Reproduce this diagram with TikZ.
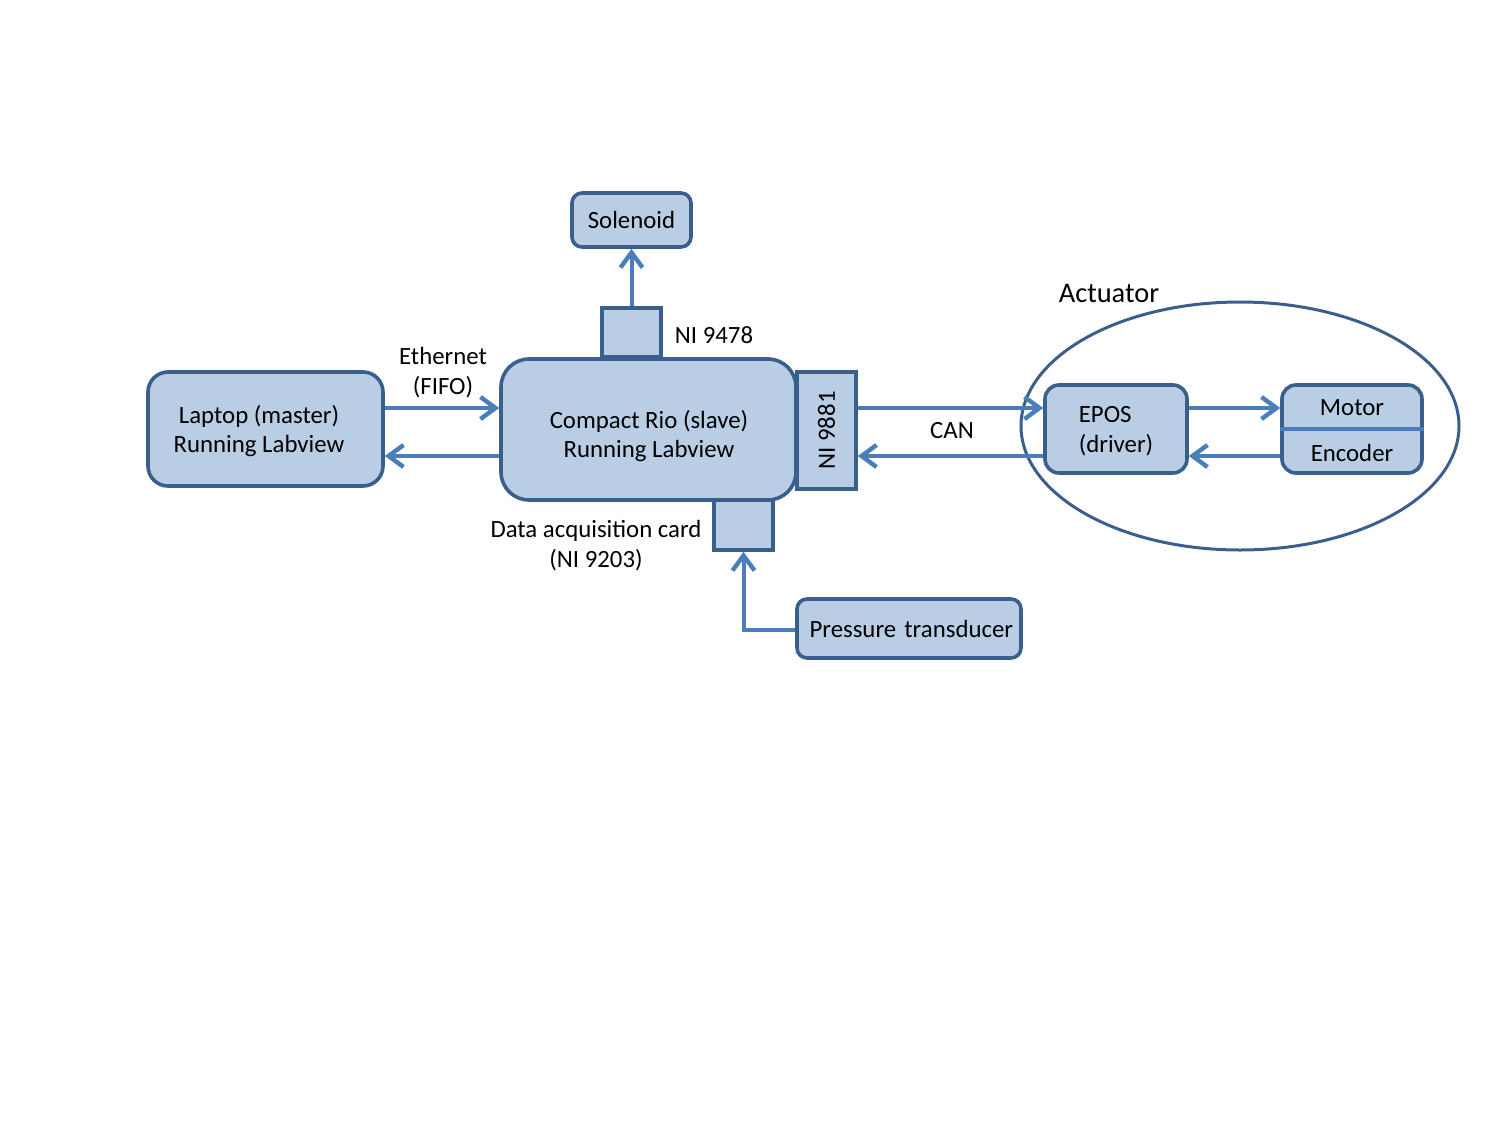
\documentclass[tikz,border=0pt]{standalone}
\usepackage{fontspec}
\setmainfont{Carlito}
\usetikzlibrary{arrows.meta,shapes.geometric}
\definecolor{boxfill}{HTML}{B9CDE5}
\definecolor{boxline}{HTML}{3A5F8C}
\definecolor{arrowc}{HTML}{4A7EBB}
\begin{document}
\begin{tikzpicture}[x=0.5pt,y=-0.5pt,
  txt/.style={font=\fontsize{12.4}{14.8}\selectfont, align=center, inner sep=0pt, text=black},
  box/.style={txt, draw=boxline, fill=boxfill, line width=1.8pt, rounded corners=5pt},
  card/.style={txt, draw=boxline, fill=boxfill, line width=1.8pt},
  conn/.style={draw=arrowc, line width=2pt, -{Straight Barb[length=7.5pt,width=11pt,line width=2.2pt]}}]
\useasboundingbox (0,0) rectangle (1500,1125);

% actuator ellipse
\node[draw=boxline, line width=1.5pt, ellipse, minimum width=219pt, minimum height=124pt, inner sep=0pt] (act) at (1240,426) {};
\node[txt, font=\fontsize{14.2}{17}\selectfont] (actlbl) at (1109,293) {Actuator};

% boxes
\node[box, minimum width=59.5pt, minimum height=27pt] (sol) at (631.5,220) {Solenoid};
\node[box, rounded corners=10pt, minimum width=117.5pt, minimum height=57pt] (lap) at (265.5,429) {};
\node[txt] (laptxt) at (259,431) {Laptop (master)\\Running Labview};
\node[card, minimum width=29.5pt, minimum height=58.5pt] (ni81) at (826.5,430.5) {\rotatebox{90}{NI 9881}};
\node[card, minimum width=29.5pt, minimum height=24.5pt] (ni78) at (631.5,332.5) {};
\node[card, minimum width=29.5pt, minimum height=25pt] (daq) at (743.5,525) {};
\node[box, rounded corners=14pt, minimum width=147.5pt, minimum height=70.5pt] (rio) at (648.5,429.5) {};
\node[txt] (riotxt) at (649,436) {Compact Rio (slave)\\Running Labview};
\node[box, minimum width=112pt, minimum height=29.5pt, text width=104pt, align=right] (pt) at (909,628.5) {Pressure transducer};
\node[box, rounded corners=7pt, minimum width=71pt, minimum height=44pt, align=left] (epos) at (1116,429) {};
\node[txt, align=left] (epostxt) at (1116,431) {EPOS\\(driver)};
\node[box, rounded corners=7pt, minimum width=70pt, minimum height=44pt] (mot) at (1352,429) {};
\draw[draw=arrowc, line width=2pt] (mot.west) -- (mot.east);
\node[txt] (motlbl) at (1352,408) {Motor};
\node[txt] (enclbl) at (1352,453) {Encoder};

% labels
\node[txt] (l78) at (714,335) {NI 9478};
\node[txt] (leth) at (443,372.5) {Ethernet\\(FIFO)};
\node[txt] (ldaq) at (596,545.5) {Data acquisition card\\(NI 9203)};
\node[txt] (lcan) at (952,431) {CAN};

% connectors
\draw[conn] ([yshift=10.5pt]lap.east) -- ([yshift=10.75pt]rio.west);
\draw[conn] ([yshift=-13.25pt]rio.west) -- ([yshift=-13.5pt]lap.east);
\draw[conn] ([yshift=11.25pt]ni81.east) -- ([yshift=10.5pt]epos.west);
\draw[conn] ([yshift=-13.5pt]epos.west) -- ([yshift=-12.75pt]ni81.east);
\draw[conn] ([yshift=10.5pt]epos.east) -- ([yshift=10.5pt]mot.west);
\draw[conn] ([yshift=-13.5pt]mot.west) -- ([yshift=-13.5pt]epos.east);
\draw[conn] (ni78.north) -- (sol.south);
\draw[conn] ([yshift=-0.75pt]pt.west) -| (daq.south);
\end{tikzpicture}
\end{document}
